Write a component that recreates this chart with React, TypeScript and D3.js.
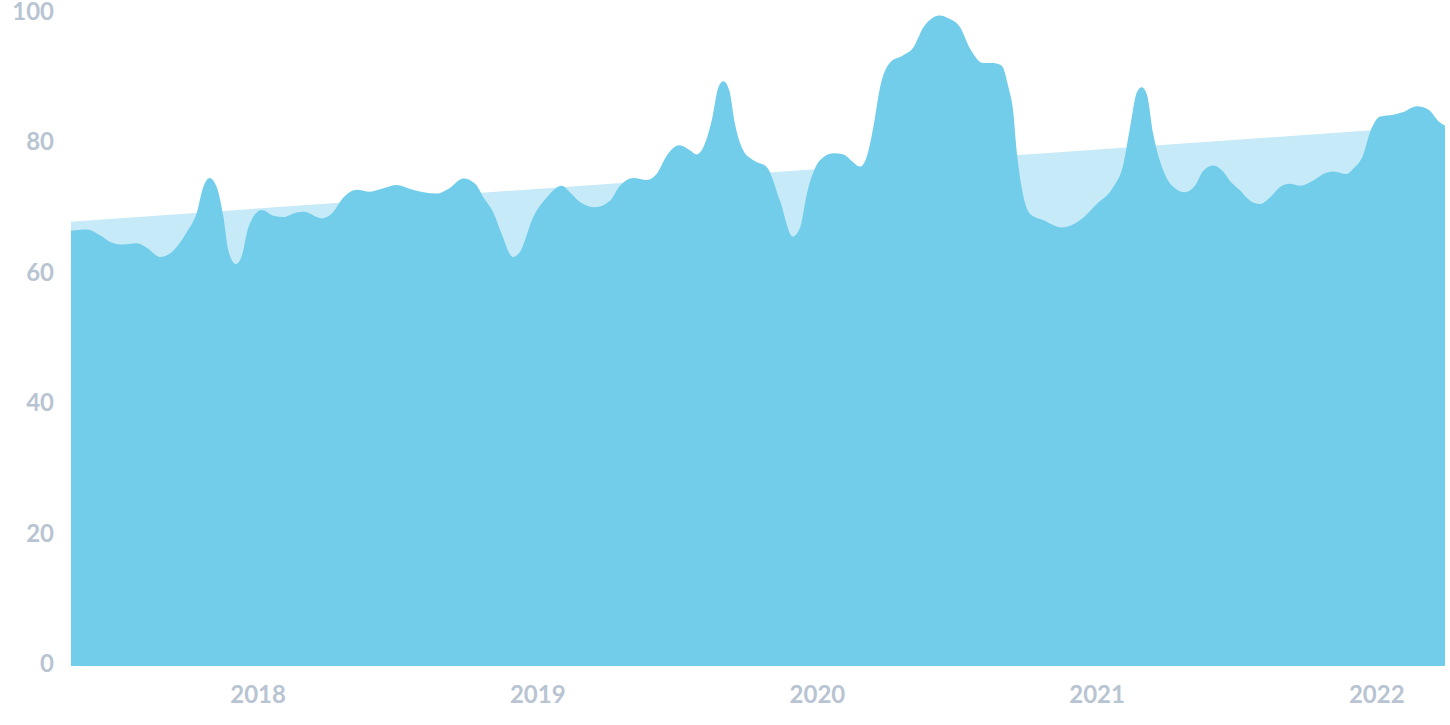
import React from "react";
import * as d3 from "d3";

// decimal-year positions and index values
const times: number[] = [
  2017.331, 2017.388, 2017.435, 2017.471, 2017.517, 2017.566, 2017.602, 2017.65, 2017.696, 2017.745,
  2017.781, 2017.804, 2017.826, 2017.852, 2017.876, 2017.894, 2017.921, 2017.942, 2017.965, 2018.013,
  2018.055, 2018.09, 2018.138, 2018.162, 2018.228, 2018.263, 2018.305, 2018.353, 2018.4, 2018.448,
  2018.496, 2018.543, 2018.591, 2018.639, 2018.68, 2018.734, 2018.776, 2018.806, 2018.841, 2018.871,
  2018.911, 2018.937, 2018.984, 2019.032, 2019.086, 2019.115, 2019.151, 2019.205, 2019.258, 2019.294,
  2019.342, 2019.39, 2019.425, 2019.461, 2019.506, 2019.545, 2019.568, 2019.592, 2019.622, 2019.646,
  2019.664, 2019.685, 2019.705, 2019.735, 2019.771, 2019.82, 2019.866, 2019.912, 2019.938, 2019.962,
  2020.009, 2020.057, 2020.093, 2020.128, 2020.152, 2020.176, 2020.2, 2020.224, 2020.26, 2020.307,
  2020.343, 2020.379, 2020.414, 2020.438, 2020.462, 2020.51, 2020.546, 2020.593, 2020.629, 2020.659, 2020.683,
  2020.701, 2020.71, 2020.73, 2020.76, 2020.808, 2020.873, 2020.939, 2020.999, 2021.058, 2021.094,
  2021.118, 2021.142, 2021.16, 2021.178, 2021.201, 2021.237, 2021.273, 2021.314, 2021.35, 2021.38,
  2021.416, 2021.452, 2021.476, 2021.511, 2021.547, 2021.583, 2021.618, 2021.654, 2021.69, 2021.726,
  2021.773, 2021.809, 2021.845, 2021.892, 2021.916, 2021.952, 2021.976, 2022.012, 2022.059, 2022.095,
  2022.143, 2022.184, 2022.226, 2022.244,
];

const values: number[] = [
  66.7, 66.9, 66.0, 65.0, 64.6, 64.8, 64.1, 62.7, 63.6, 66.5,
  69.5, 73.4, 74.8, 73.4, 68.8, 63.6, 61.6, 62.9, 67.2, 69.9,
  69.0, 68.8, 69.5, 69.6, 68.6, 69.3, 71.8, 73.0, 72.7, 73.2,
  73.7, 73.1, 72.6, 72.4, 73.1, 74.7, 73.9, 71.8, 69.5, 66.2,
  62.7, 63.5, 68.8, 71.8, 73.6, 72.6, 71.1, 70.3, 71.3, 73.6,
  74.8, 74.5, 75.4, 78.2, 79.8, 79.0, 78.4, 79.5, 83.6, 88.7,
  89.6, 88.2, 83.1, 79.0, 77.5, 76.4, 71.3, 65.8, 67.2, 72.3,
  77.5, 78.6, 78.4, 77.2, 76.5, 78.0, 82.6, 88.7, 92.5, 93.6,
  94.8, 97.9, 99.4, 99.7, 99.4, 97.9, 94.6, 92.4, 92.4, 92.0, 88.7,
  84.6, 80.0, 73.4, 69.3, 68.3, 67.2, 68.3, 70.8, 73.4, 76.9,
  82.6, 87.9, 88.7, 87.6, 81.5, 75.9, 73.4, 72.6, 73.6, 75.9,
  76.7, 75.7, 74.3, 72.9, 71.3, 70.8, 71.8, 73.4, 73.9, 73.6,
  74.4, 75.4, 75.8, 75.4, 76.2, 78.4, 81.8, 84.2, 84.5, 84.9,
  85.8, 85.3, 83.3, 82.8,
];

// linear trend: start and end values
const trendTimes: number[] = [2017.331, 2022.244];
const trendValues: number[] = [68.1, 82.9];

const yTicks: number[] = [0, 20, 40, 60, 80, 100];
const xTicks: number[] = [2018, 2019, 2020, 2021, 2022];

const W = 1450;
const H = 725;

export default function App() {
  const x = d3.scaleLinear().domain([2017.331, 2022.244]).range([71, 1445]);
  const y = d3.scaleLinear().domain([0, 100]).range([666, 13.5]);

  const data = times.map((t, i) => ({ t, v: values[i] }));
  const trend = trendTimes.map((t, i) => ({ t, v: trendValues[i] }));

  const area = d3
    .area<{ t: number; v: number }>()
    .x((d) => x(d.t))
    .y0(y(0))
    .y1((d) => y(d.v))
    .curve(d3.curveMonotoneX);

  const trendArea = d3
    .area<{ t: number; v: number }>()
    .x((d) => x(d.t))
    .y0(y(0))
    .y1((d) => y(d.v));

  const labelStyle: React.CSSProperties = {
    fontFamily: "Lato, 'Open Sans', sans-serif",
    fontWeight: 700,
    fontSize: 24,
    fill: "#b8c4d2",
  };

  return (
    <svg
      width={W}
      height={H}
      style={{ position: "absolute", left: 0, top: 0, background: "#ffffff" }}
    >
      <path d={trendArea(trend) || ""} fill="#c6eaf7" />
      <path d={area(data) || ""} fill="#71cde9" />
      {yTicks.map((t) => (
        <text
          key={"y" + t}
          x={54}
          y={y(t) + 6}
          textAnchor="end"
          style={labelStyle}
        >
          {t}
        </text>
      ))}
      {xTicks.map((t) => (
        <text
          key={"x" + t}
          x={x(t)}
          y={703}
          textAnchor="middle"
          style={labelStyle}
        >
          {t}
        </text>
      ))}
    </svg>
  );
}
